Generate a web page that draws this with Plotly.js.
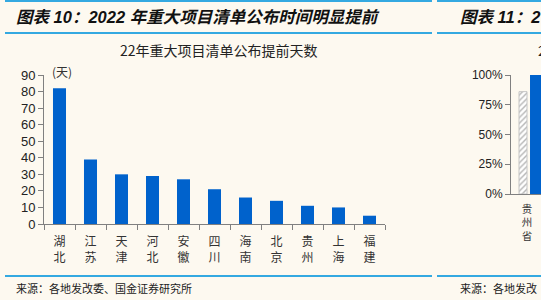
<!DOCTYPE html>
<html>
<head>
<meta charset="utf-8">
<script src="https://cdn.plot.ly/plotly-3.0.1.min.js"></script>
<style>
html,body{margin:0;padding:0;background:#fdf9f0;}
#chart{width:541px;height:300px;}
</style>
</head>
<body>
<div id="chart"></div>
<script>
// ---- data ----
const categories = ['湖北','江苏','天津','河北','安徽','四川','海南','北京','贵州','上海','福建'];
const days = [82, 39, 30, 29, 27, 21, 16, 14, 11, 10, 5];
const leftTicks = [0, 10, 20, 30, 40, 50, 60, 70, 80, 90];

const rightCategories = ['贵州省'];
const rightSeriesA = [0.86];
const rightSeriesB = [1.0];
const rightTicks = [0, 0.25, 0.5, 0.75, 1];

const headerLeft = '图表 10：2022 年重大项目清单公布时间明显提前';
const headerRight = '图表 11：2';
const chartTitle = '22年重大项目清单公布提前天数';
const unitLabel = '(天)';
const sourceLeft = '来源：各地发改委、国金证券研究所';
const sourceRight = '来源：各地发改';

// ---- layout helpers ----
const W = 541, H = 300;
const px = x => x / W;
const py = y => 1 - y / H;
const BG = '#fdf9f0';
const BLUE = '#0062cc';
const LINE = '#34a9e1';
const AX = '#808080';
const CJK = 'Noto Sans CJK SC';
const LAT = 'Liberation Sans, Arial, ' + CJK;

const traces = [
  {
    type: 'bar', x: categories, y: days,
    xaxis: 'x', yaxis: 'y',
    marker: {color: BLUE, line: {width: 0}},
    width: 0.42, hoverinfo: 'none', showlegend: false
  },
  {
    type: 'bar', x: rightCategories, y: rightSeriesA,
    xaxis: 'x2', yaxis: 'y2',
    offset: -0.25, width: 0.25,
    marker: {color: '#ffffff', line: {color: '#c4c4c4', width: 1},
      pattern: {shape: '/', fgcolor: '#b5b5b5', bgcolor: '#ffffff', size: 4, solidity: 0.35}},
    hoverinfo: 'none', showlegend: false
  },
  {
    type: 'bar', x: rightCategories, y: rightSeriesB,
    xaxis: 'x2', yaxis: 'y2',
    offset: 0.094, width: 0.45,
    marker: {color: BLUE, line: {width: 0}},
    hoverinfo: 'none', showlegend: false
  }
];

const lineShape = (x0, x1, y) => ({
  type: 'line', xref: 'paper', yref: 'paper',
  x0: px(x0), x1: px(x1), y0: py(y), y1: py(y),
  line: {color: LINE, width: 2}
});

const layout = {
  width: W, height: H, autosize: false,
  margin: {l: 0, r: 0, t: 0, b: 0, pad: 0},
  paper_bgcolor: BG, plot_bgcolor: BG,
  barmode: 'group',
  showlegend: false,
  xaxis: {
    domain: [px(44), px(385)], range: [-0.5, 10.5],
    type: 'category',
    tickmode: 'array', tickvals: categories,
    ticktext: categories.map(c => c.split('').join('<br>')),
    tickson: 'boundaries', ticks: 'outside', ticklen: 5, tickcolor: AX,
    ticklabelstandoff: 7,
    showline: true, linecolor: AX, linewidth: 1,
    showgrid: false, zeroline: false,
    tickfont: {family: CJK, size: 12, color: '#333'},
    fixedrange: true
  },
  yaxis: {
    domain: [1 - 224 / H, 1 - 75 / H], range: [0, 90],
    tickmode: 'array', tickvals: leftTicks,
    ticks: 'outside', ticklen: 5, tickcolor: AX,
    showline: true, linecolor: AX, linewidth: 1,
    showgrid: false, zeroline: false,
    tickfont: {family: LAT, size: 13, color: '#222'},
    fixedrange: true
  },
  xaxis2: {
    domain: [px(511), 1], range: [-0.5, 0.4375],
    type: 'category', anchor: 'y2',
    tickmode: 'array', tickvals: rightCategories,
    ticktext: rightCategories.map(c => c.split('').join('<br>')),
    ticks: '', ticklabelstandoff: 5,
    showline: true, linecolor: AX, linewidth: 1,
    showgrid: false, zeroline: false,
    tickfont: {family: CJK, size: 10.5, color: '#333'},
    fixedrange: true
  },
  yaxis2: {
    domain: [1 - 194 / H, 1 - 75 / H], range: [0, 1], anchor: 'x2',
    tickmode: 'array', tickvals: rightTicks, tickformat: '.0%',
    ticks: 'outside', ticklen: 5, tickcolor: AX,
    showline: true, linecolor: AX, linewidth: 1,
    showgrid: false, zeroline: false,
    tickfont: {family: LAT, size: 12, color: '#222'},
    fixedrange: true
  },
  shapes: [
    lineShape(5, 432, 1), lineShape(437, 541, 1),
    lineShape(5, 432, 33), lineShape(437, 541, 33),
    lineShape(5, 432, 276), lineShape(437, 541, 276)
  ],
  annotations: [
    {text: '<b><i>' + headerLeft + '</i></b>', xref: 'paper', yref: 'paper',
     x: px(14), y: py(17), xanchor: 'left', yanchor: 'middle', showarrow: false,
     font: {family: LAT, size: 16.5, color: '#111'}},
    {text: '<b><i>' + headerRight + '</i></b>', xref: 'paper', yref: 'paper',
     x: px(458), y: py(17), xanchor: 'left', yanchor: 'middle', showarrow: false,
     font: {family: LAT, size: 16.5, color: '#111'}},
    {text: chartTitle, xref: 'paper', yref: 'paper',
     x: px(219), y: py(50), xanchor: 'center', yanchor: 'middle', showarrow: false,
     font: {family: CJK, size: 14, color: '#222'}},
    {text: '2', xref: 'paper', yref: 'paper',
     x: px(536), y: py(50), xanchor: 'left', yanchor: 'middle', showarrow: false,
     font: {family: CJK, size: 14, color: '#222'}},
    {text: unitLabel, xref: 'paper', yref: 'paper',
     x: px(62), y: py(71), xanchor: 'center', yanchor: 'middle', showarrow: false,
     font: {family: CJK, size: 12, color: '#333'}},
    {text: sourceLeft, xref: 'paper', yref: 'paper',
     x: px(14), y: py(288), xanchor: 'left', yanchor: 'middle', showarrow: false,
     font: {family: CJK, size: 11, color: '#222'}},
    {text: sourceRight, xref: 'paper', yref: 'paper',
     x: px(458), y: py(288), xanchor: 'left', yanchor: 'middle', showarrow: false,
     font: {family: CJK, size: 11, color: '#222'}}
  ]
};

Plotly.newPlot('chart', traces, layout, {displayModeBar: false, staticPlot: true});
</script>
</body>
</html>
